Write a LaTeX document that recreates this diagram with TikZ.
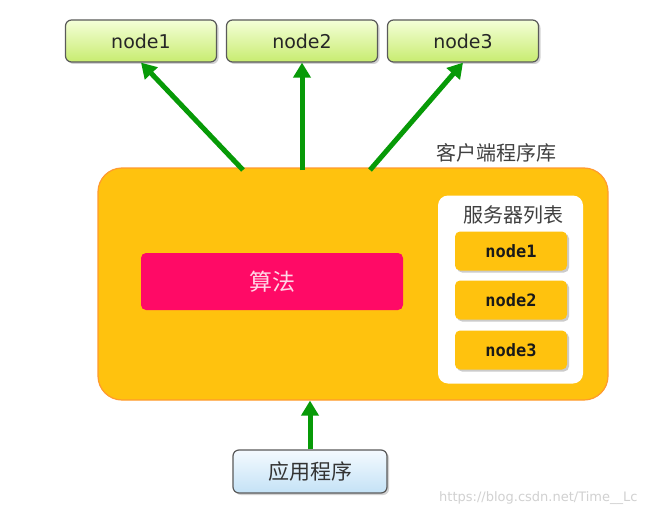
\documentclass[tikz,border=0pt]{standalone}
\usepackage{fontspec}
\setmainfont{DejaVu Sans}
\newfontfamily\cjk{Noto Sans CJK SC}
\newfontfamily\monob{DejaVu Sans Mono}
\usetikzlibrary{arrows.meta,shadows}
\definecolor{arrgreen}{HTML}{079A07}
\definecolor{boxorange}{HTML}{FFC20E}
\definecolor{boxedge}{HTML}{FF9A2E}
\definecolor{algopink}{HTML}{FF0A66}
\definecolor{algotext}{HTML}{FFD6E6}
\definecolor{topgreenA}{HTML}{F4FFD8}
\definecolor{topgreenB}{HTML}{C8EC70}
\definecolor{appblueA}{HTML}{F4FAFF}
\definecolor{appblueB}{HTML}{C4E2F6}
\definecolor{edgegray}{HTML}{5A5A5A}
\tikzset{
  x=1pt,y=-1pt,
  topnode/.style={draw=edgegray,line width=1.2pt,rounded corners=6pt,
    top color=topgreenA,bottom color=topgreenB,minimum width=151pt,minimum height=42pt,
    drop shadow={shadow xshift=2pt,shadow yshift=-2pt,fill=gray!70},
    font=\fontsize{19}{22}\selectfont,text=black!85},
  srvnode/.style={fill=boxorange,rounded corners=5pt,minimum width=112pt,minimum height=39pt,
    drop shadow={shadow xshift=2pt,shadow yshift=-2pt,fill=gray!80},
    font=\monob\bfseries\fontsize{17}{20}\selectfont,text=black!90},
  bigarrow/.style={draw=arrgreen,line width=5pt,-{Triangle[width=17pt,length=15pt]}},
  lbl/.style={font=\cjk\fontsize{20}{22}\selectfont,text=black!75},
}
\begin{document}
\begin{tikzpicture}
\useasboundingbox (0,0) rectangle (650,516);
\fill[white] (0,0) rectangle (650,516);
% top nodes
\node[topnode] (n1) at (141,41) {node1};
\node[topnode] (n2) at (302,41) {node2};
\node[topnode] (n3) at (463,41) {node3};
% client library box
\node[draw=boxedge,line width=1.2pt,fill=boxorange,rounded corners=24pt,
  minimum width=510pt,minimum height=232pt] (lib) at (353,284) {};
\node[lbl] (libl) at (496,153) {客户端程序库};
% algorithm
\node[fill=algopink,rounded corners=5pt,minimum width=262pt,minimum height=57pt,
  font=\cjk\fontsize{23}{26}\selectfont,text=algotext] (algo) at (272,281.5) {算法};
% server list panel
\node[fill=white,rounded corners=10pt,minimum width=145pt,minimum height=188pt] (panel) at (510.5,289.5) {};
\node[lbl] (panell) at (513,215) {服务器列表};
\node[srvnode] (s1) at (511,251) {node1};
\node[srvnode] (s2) at (511,300) {node2};
\node[srvnode] (s3) at (511,350) {node3};
% application
\node[draw=edgegray,line width=1.2pt,rounded corners=6pt,top color=appblueA,bottom color=appblueB,
  minimum width=154pt,minimum height=43pt,
  drop shadow={shadow xshift=2pt,shadow yshift=-2pt,fill=gray!70},
  font=\cjk\fontsize{21}{24}\selectfont,text=black!80] (app) at (310,471.5) {应用程序};
% arrows
\coordinate (a1) at (243,170);
\coordinate (a2) at (302,170);
\coordinate (a3) at (370,170);
\draw[bigarrow] (a1) -- (n1.south);
\draw[bigarrow] (a2) -- (n2.south);
\draw[bigarrow] (a3) -- (n3.south);
\draw[bigarrow] (app.north) -- (app.north |- lib.south);
% watermark
\node[font=\fontsize{13}{15}\selectfont,text=black!18,anchor=east] (wm) at (641,498) {https://blog.csdn.net/Time\_\_Lc};
\end{tikzpicture}
\end{document}
